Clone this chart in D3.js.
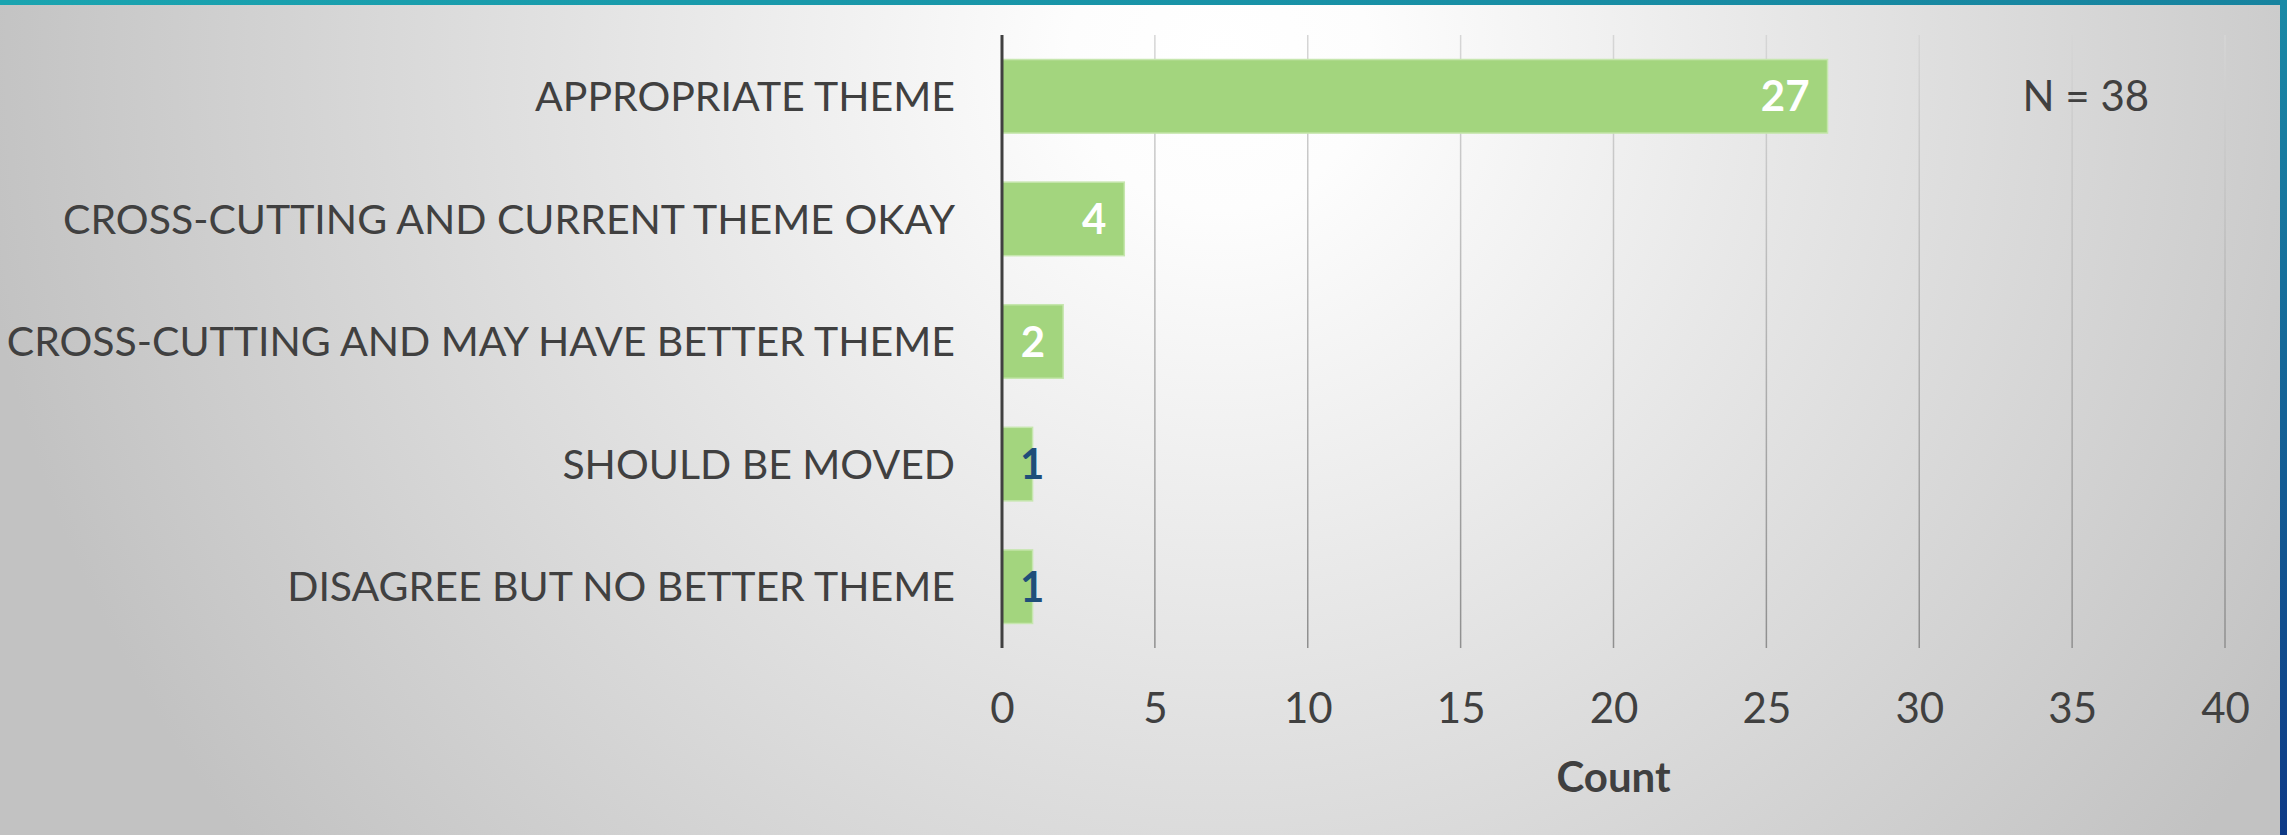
<!DOCTYPE html>
<html lang="en">
<head>
    <meta charset="UTF-8">
    <script src="https://d3js.org/d3.v7.min.js"></script>
    <title>Theme placement</title>
    <style>
        body { margin: 0; overflow: hidden; }
        text { font-family: Lato, "Open Sans", sans-serif; }
    </style>
</head>
<body>
<script>
    // Data
    const categories = [
        "APPROPRIATE THEME",
        "CROSS-CUTTING AND CURRENT THEME OKAY",
        "CROSS-CUTTING AND MAY HAVE BETTER THEME",
        "SHOULD BE MOVED",
        "DISAGREE BUT NO BETTER THEME"
    ];
    const counts = [27, 4, 2, 1, 1];
    const xTicks = [0, 5, 10, 15, 20, 25, 30, 35, 40];
    const xTitle = "Count";
    const note = "N = 38";

    const W = 2287, H = 835;
    const margin = {top: 35, right: 62, bottom: 187, left: 1002};

    const svg = d3.select("body").append("svg")
        .attr("width", W)
        .attr("height", H);

    const defs = svg.append("defs");

    // Background: soft white spot fading to grey
    const bg = defs.append("radialGradient")
        .attr("id", "bg")
        .attr("gradientUnits", "userSpaceOnUse")
        .attr("cx", 1220).attr("cy", 60).attr("r", 1250);
    bg.append("stop").attr("offset", 0).attr("stop-color", "#ffffff");
    bg.append("stop").attr("offset", 0.12).attr("stop-color", "#fdfdfd");
    bg.append("stop").attr("offset", 1).attr("stop-color", "#c2c2c2");

    const topBand = defs.append("linearGradient").attr("id", "topBand");
    topBand.append("stop").attr("offset", 0).attr("stop-color", "#1aa4b0");
    topBand.append("stop").attr("offset", 1).attr("stop-color", "#17839f");

    const sideBand = defs.append("linearGradient").attr("id", "sideBand")
        .attr("x1", 0).attr("x2", 0).attr("y1", 0).attr("y2", 1);
    sideBand.append("stop").attr("offset", 0).attr("stop-color", "#1a8aa6");
    sideBand.append("stop").attr("offset", 1).attr("stop-color", "#0e3a86");

    const gridGrad = defs.append("linearGradient").attr("id", "gridGrad")
        .attr("gradientUnits", "userSpaceOnUse")
        .attr("x1", 0).attr("x2", 0)
        .attr("y1", margin.top).attr("y2", H - margin.bottom);
    gridGrad.append("stop").attr("offset", 0).attr("stop-color", "#d6d6d6");
    gridGrad.append("stop").attr("offset", 1).attr("stop-color", "#8f8f8f");

    svg.append("rect").attr("width", W).attr("height", H).attr("fill", "url(#bg)");
    svg.append("rect").attr("width", W).attr("height", 5).attr("fill", "url(#topBand)");
    svg.append("rect").attr("x", W - 7).attr("width", 7).attr("height", H).attr("fill", "url(#sideBand)");

    // Scales
    const x = d3.scaleLinear()
        .domain([0, 40])
        .range([margin.left, W - margin.right]);

    const y = d3.scaleBand()
        .domain(categories)
        .range([margin.top, H - margin.bottom])
        .paddingInner(0.4)
        .paddingOuter(0.2);

    // Gridlines
    svg.append("g")
        .selectAll("line")
        .data(xTicks.slice(1))
        .enter().append("line")
        .attr("x1", d => x(d)).attr("x2", d => x(d))
        .attr("y1", margin.top).attr("y2", H - margin.bottom)
        .attr("stroke", "url(#gridGrad)")
        .attr("stroke-width", 1.5);

    // Bars
    svg.append("g")
        .selectAll("rect")
        .data(counts)
        .enter().append("rect")
        .attr("x", x(0))
        .attr("y", (d, i) => y(categories[i]))
        .attr("width", d => x(d) - x(0))
        .attr("height", y.bandwidth())
        .attr("fill", "#a3d57e")
        .attr("stroke", "#c6e6ae")
        .attr("stroke-width", 1.5);

    // Value labels: inside end when the bar is wide enough, else just past the axis
    svg.append("g")
        .selectAll("text")
        .data(counts)
        .enter().append("text")
        .attr("x", d => (x(d) - x(0) > 50) ? x(d) - 18 : x(0) + 18)
        .attr("y", (d, i) => y(categories[i]) + y.bandwidth() / 2)
        .attr("dy", "0.36em")
        .attr("text-anchor", d => (x(d) - x(0) > 50) ? "end" : "start")
        .attr("fill", d => (x(d) - x(0) > 50) ? "#ffffff" : "#1f4e79")
        .attr("font-weight", "bold")
        .attr("font-size", 42)
        .text(d => d);

    // Category labels
    svg.append("g")
        .selectAll("text")
        .data(categories)
        .enter().append("text")
        .attr("x", x(0) - 47)
        .attr("y", d => y(d) + y.bandwidth() / 2)
        .attr("dy", "0.36em")
        .attr("text-anchor", "end")
        .attr("fill", "#404040")
        .attr("font-size", 41)
        .text(d => d);

    // Value axis
    const xAxis = svg.append("g")
        .attr("transform", "translate(0," + (H - margin.bottom) + ")")
        .call(d3.axisBottom(x).tickValues(xTicks).tickSize(0).tickPadding(45));
    xAxis.select(".domain").remove();
    xAxis.selectAll("text")
        .attr("fill", "#404040")
        .attr("font-size", 42)
        .attr("font-family", "Lato, 'Open Sans', sans-serif");

    // Category axis line
    svg.append("line")
        .attr("x1", x(0)).attr("x2", x(0))
        .attr("y1", margin.top).attr("y2", H - margin.bottom)
        .attr("stroke", "#404040")
        .attr("stroke-width", 3);

    svg.append("text")
        .attr("x", (x.range()[0] + x.range()[1]) / 2)
        .attr("y", 777)
        .attr("dy", "0.36em")
        .attr("text-anchor", "middle")
        .attr("fill", "#404040")
        .attr("font-weight", "bold")
        .attr("font-size", 42)
        .text(xTitle);

    svg.append("text")
        .attr("x", x(35.45))
        .attr("y", y(categories[0]) + y.bandwidth() / 2)
        .attr("dy", "0.36em")
        .attr("text-anchor", "middle")
        .attr("fill", "#404040")
        .attr("font-size", 42)
        .text(note);
</script>
</body>
</html>
